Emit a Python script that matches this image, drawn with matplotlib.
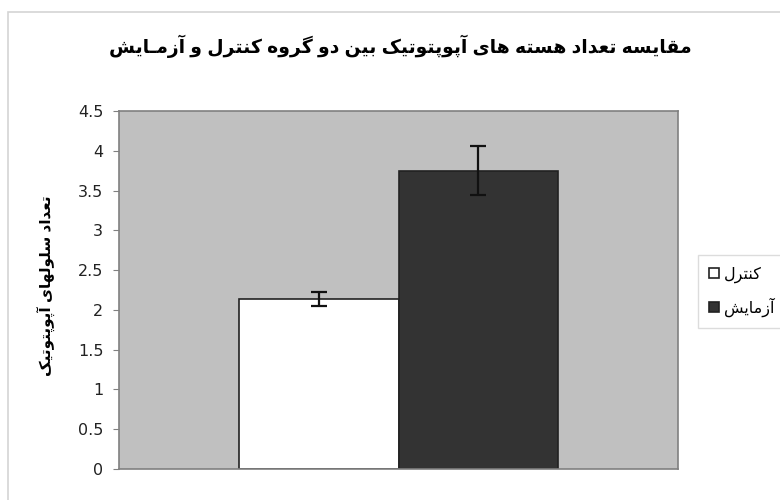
import numpy as np
import matplotlib
matplotlib.use("Agg")
import matplotlib.pyplot as plt
from matplotlib.patches import Rectangle, Patch

# fonts: latin text in Liberation Sans, arabic script falls back to DejaVu Sans
plt.rcParams['font.family'] = ['Liberation Sans', 'DejaVu Sans']

# chart data
title = "مقایسه تعداد هسته های آپوپتوتیک بین دو گروه کنترل و آزمـایش"
y_label = "تعداد سلولهای آپوپتوتیک"
groups = ["کنترل", "آزمایش"]
values = [2.14, 3.75]
errors = [0.09, 0.31]
colors = ["#ffffff", "#333333"]
y_ticks = [0, 0.5, 1, 1.5, 2, 2.5, 3, 3.5, 4, 4.5]

# presentation forms (isolated, final, initial, medial) for the letters used
FORMS = {
    'ا': (0xFE8D, 0xFE8E, None, None),
    'آ': (0xFE81, 0xFE82, None, None),
    'ب': (0xFE8F, 0xFE90, 0xFE91, 0xFE92),
    'پ': (0xFB56, 0xFB57, 0xFB58, 0xFB59),
    'ت': (0xFE95, 0xFE96, 0xFE97, 0xFE98),
    'د': (0xFEA9, 0xFEAA, None, None),
    'ر': (0xFEAD, 0xFEAE, None, None),
    'ز': (0xFEAF, 0xFEB0, None, None),
    'س': (0xFEB1, 0xFEB2, 0xFEB3, 0xFEB4),
    'ش': (0xFEB5, 0xFEB6, 0xFEB7, 0xFEB8),
    'ع': (0xFEC9, 0xFECA, 0xFECB, 0xFECC),
    'ق': (0xFED5, 0xFED6, 0xFED7, 0xFED8),
    'ک': (0xFB8E, 0xFB8F, 0xFB90, 0xFB91),
    'گ': (0xFB92, 0xFB93, 0xFB94, 0xFB95),
    'ل': (0xFEDD, 0xFEDE, 0xFEDF, 0xFEE0),
    'م': (0xFEE1, 0xFEE2, 0xFEE3, 0xFEE4),
    'ن': (0xFEE5, 0xFEE6, 0xFEE7, 0xFEE8),
    'ه': (0xFEE9, 0xFEEA, 0xFEEB, 0xFEEC),
    'و': (0xFEED, 0xFEEE, None, None),
    'ی': (0xFBFC, 0xFBFD, 0xFBFE, 0xFBFF),
}
TATWEEL = 'ـ'


# matplotlib has no bidi/shaping, so join the letters by hand and reverse
def shape(text):
    def joins(c):
        return c in FORMS or c == TATWEEL

    def dual(c):
        return c == TATWEEL or (c in FORMS and FORMS[c][2] is not None)

    out = []
    for i, c in enumerate(text):
        if c not in FORMS:
            out.append(c)
            continue
        prev = text[i - 1] if i > 0 else ''
        nxt = text[i + 1] if i + 1 < len(text) else ''
        link_prev = dual(prev)
        link_next = dual(c) and joins(nxt)
        iso, fin, ini, med = FORMS[c]
        if link_prev and link_next:
            out.append(chr(med))
        elif link_prev:
            out.append(chr(fin))
        elif link_next:
            out.append(chr(ini))
        else:
            out.append(chr(iso))
    return ''.join(reversed(out))


fig = plt.figure(figsize=(7.8, 5), dpi=100)
# light chart border like the spreadsheet export
fig.patches.append(Rectangle((8 / 780, -0.05), 1.2, 1 - 12 / 500 + 0.05,
                             transform=fig.transFigure, fill=False,
                             edgecolor="#d4d4d4", linewidth=1.2))

ax = fig.add_axes([119 / 780, 1 - 469 / 500, (678 - 119) / 780, (469 - 111) / 500])
ax.set_facecolor("#c0c0c0")

# one category, two series, gap width 150%
width = 1 / 3.5
x = np.array([-width / 2, width / 2])
ax.bar(x, values, width=width, color=colors, edgecolor="#222222", linewidth=1.2,
       yerr=errors, capsize=6,
       error_kw=dict(ecolor="#111111", elinewidth=1.6, capthick=1.6))

ax.set_xlim(-0.5, 0.5)
ax.set_ylim(0, 4.5)
ax.set_yticks(y_ticks)
ax.yaxis.set_major_formatter(lambda v, p: f"{v:g}")
ax.set_xticks([])
ax.tick_params(axis="y", length=4.3, color="#808080", labelsize=11.5, pad=7,
               labelcolor="#222222")
for lab in ax.get_yticklabels():
    lab.set_family("DejaVu Sans")
for s in ax.spines.values():
    s.set_color("#808080")
    s.set_linewidth(1.2)

ax.set_ylabel(shape(y_label), fontsize=11, fontweight="bold")
ax.yaxis.set_label_coords((56 - 119) / 559, (469 - 286) / 358)

fig.text(400 / 780, 1 - 46 / 500, shape(title), ha="center", va="center",
         fontsize=13.5, fontweight="bold")

handles = [Patch(facecolor=c, edgecolor="#222222", linewidth=1.2) for c in colors]
leg = fig.legend(handles, [shape(g) for g in groups], loc="upper left",
                 bbox_to_anchor=(698 / 780, 1 - 255 / 500), fontsize=11.5,
                 frameon=True, fancybox=False, edgecolor="#d4d4d4",
                 handlelength=0.6, handleheight=0.6, handletextpad=0.35,
                 labelspacing=0.95, borderpad=0.7, borderaxespad=0)

fig.savefig("out.png", dpi=100)
